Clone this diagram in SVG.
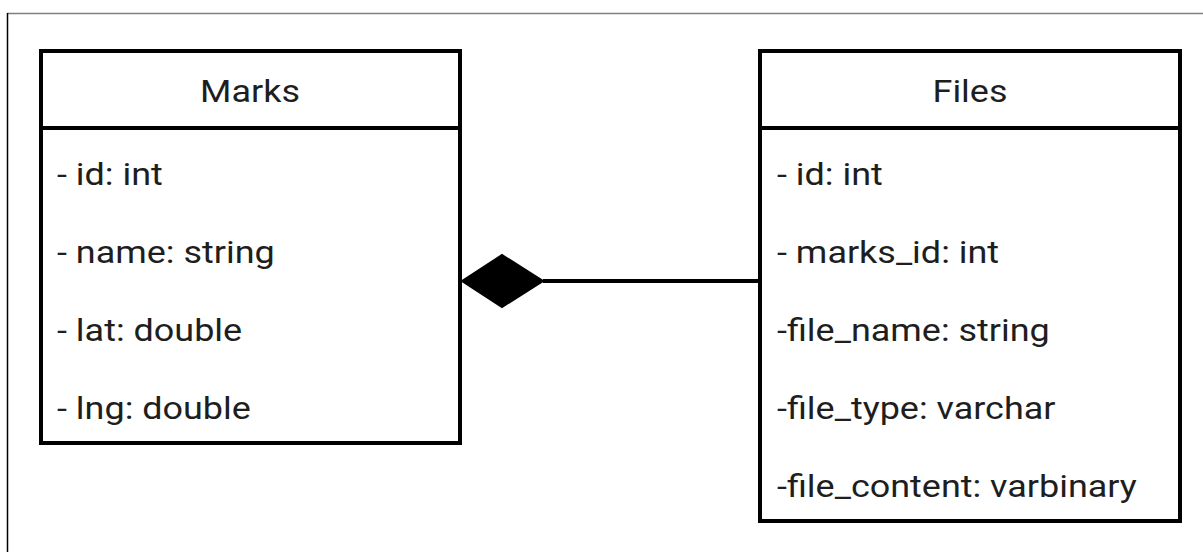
<svg xmlns="http://www.w3.org/2000/svg" width="1203" height="552" viewBox="0 0 1203 552">
<style>
.box{fill:#fff;stroke:#000;stroke-width:4}
.t{font-family:Roboto,"Liberation Sans",sans-serif;font-size:31px;fill:#1e1e1e}
.title{text-anchor:middle}
</style>
<rect x="0" y="0" width="1203" height="552" fill="#fff"/>
<g id="frame">
<line x1="7" y1="13.5" x2="1203" y2="13.5" stroke="#808080" stroke-width="1.5"/>
<line x1="7.5" y1="13" x2="7.5" y2="552" stroke="#000" stroke-width="1.5"/>
</g>
<g id="marks">
<rect class="box" x="41" y="51" width="419" height="392"/>
<line x1="41" y1="128" x2="460" y2="128" stroke="#000" stroke-width="4"/>
<text class="t title" transform="translate(250,102) scale(1.16,1)">Marks</text>
<text class="t" transform="translate(57,185) scale(1.16,1)">- id: int</text>
<text class="t" transform="translate(57,263) scale(1.16,1)">- name: string</text>
<text class="t" transform="translate(57,341) scale(1.16,1)">- lat: double</text>
<text class="t" transform="translate(57,419) scale(1.16,1)">- lng: double</text>
</g>
<g id="files">
<rect class="box" x="760" y="51" width="420" height="470"/>
<line x1="760" y1="128" x2="1180" y2="128" stroke="#000" stroke-width="4"/>
<text class="t title" transform="translate(970,102) scale(1.16,1)">Files</text>
<text class="t" transform="translate(777,185) scale(1.16,1)">- id: int</text>
<text class="t" transform="translate(777,263) scale(1.16,1)">- marks_id: int</text>
<text class="t" transform="translate(777,341) scale(1.16,1)">-file_name: string</text>
<text class="t" transform="translate(777,419) scale(1.16,1)">-file_type: varchar</text>
<text class="t" transform="translate(777,497) scale(1.16,1)">-file_content: varbinary</text>
</g>
<g id="connectors">
<line x1="543" y1="281" x2="760" y2="281" stroke="#000" stroke-width="4"/>
<polygon points="462,281 502,255 543,281 502,307" fill="#000" stroke="#000" stroke-width="2"/>
</g>
</svg>
